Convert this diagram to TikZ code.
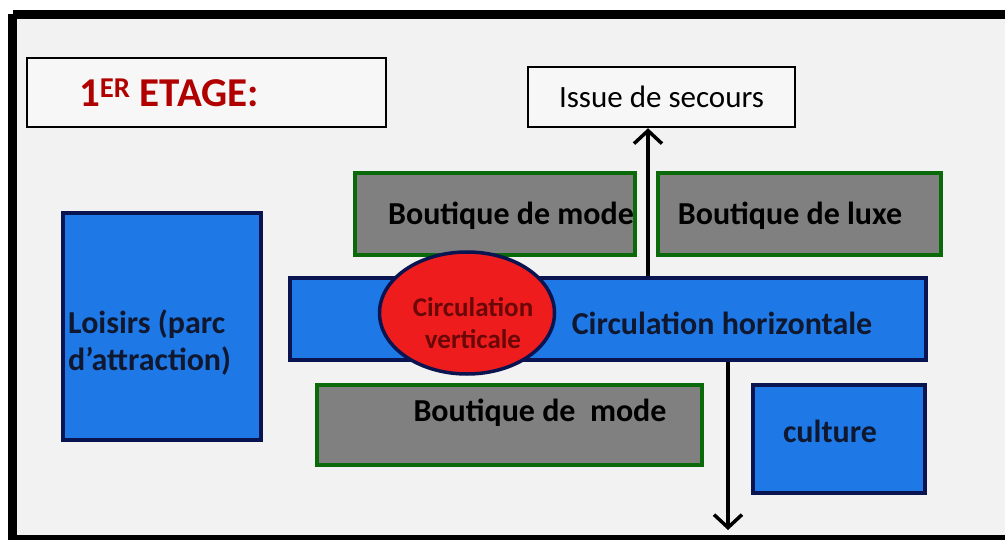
\documentclass[tikz,border=0pt]{standalone}
\usepackage{fontspec}
\setmainfont{Carlito}
\usetikzlibrary{arrows.meta,shapes.geometric}
\definecolor{bgc}{HTML}{F2F2F2}
\definecolor{bluef}{HTML}{1E78E6}
\definecolor{navy}{HTML}{0A1450}
\definecolor{grayf}{HTML}{808080}
\definecolor{greend}{HTML}{0A6A0A}
\definecolor{redf}{HTML}{EE1C1C}
\definecolor{titred}{HTML}{B00000}
\definecolor{txtdark}{HTML}{101830}
\definecolor{ellred}{HTML}{6A0808}
\tikzset{
  plainbox/.style={draw=black, fill=bgc!60!white, line width=2.5pt, inner sep=0pt},
  bluebox/.style={draw=navy, fill=bluef, line width=4pt, inner sep=0pt},
  graybox/.style={draw=greend, fill=grayf, line width=4pt, inner sep=0pt},
  redell/.style={ellipse, draw=navy, fill=redf, line width=3.5pt, inner sep=0pt},
  lbl/.style={font=\fontsize{32}{37}\selectfont\bfseries, text=txtdark, inner sep=0pt},
  glbl/.style={font=\fontsize{32}{37}\selectfont\bfseries, text=black, inner sep=0pt},
  arr/.style={line width=3.5pt, -{Straight Barb[length=13pt,width=28pt]}}
}
\begin{document}
\begin{tikzpicture}[x=1pt,y=-1pt]
\useasboundingbox (0,0) rectangle (1005,540);
\fill[white] (0,0) rectangle (1005,540);
\fill[bgc] (12,14) rectangle (1005,540);
\draw[line width=9pt] (12.5,14.5) -- (1015,14.5) (12.5,14.5) -- (12.5,539) -- (1015,539);
% title
\node[plainbox, minimum width=359pt, minimum height=69pt] (title) at (206.5,92.5) {};
\node[anchor=west, inner sep=0pt, text=titred, font=\fontsize{41}{44}\selectfont\bfseries] (titletext) at (79,93) {1\textsuperscript{ER} ETAGE:};
% issue de secours
\node[plainbox, minimum width=267pt, minimum height=60pt, font=\fontsize{31}{36}\selectfont, text=black] (issue) at (661.5,97) {Issue de secours\hspace{14pt}};
% boutiques top
\node[graybox, minimum width=280pt, minimum height=82pt] (bm1) at (495,214) {};
\node[glbl] (bm1t) at (511,216) {Boutique de mode};
\node[graybox, minimum width=283pt, minimum height=82pt] (bl) at (799.5,214) {};
\node[glbl] (blt) at (790,216) {Boutique de luxe};
% loisirs
\node[bluebox, minimum width=198pt, minimum height=227pt] (lois) at (162,326.5) {};
\node[lbl, anchor=west, align=left] (loist) at (68,343) {Loisirs (parc\\d’attraction)};
% circulation horizontale
\node[bluebox, minimum width=636pt, minimum height=82pt] (ch) at (608,319) {};
\node[lbl] (cht) at (722,323) {Circulation horizontale};
% ellipse
\node[redell, minimum width=175pt, minimum height=122pt] (cv) at (467,313) {};
\node[inner sep=0pt, align=center, text=ellred, font=\fontsize{27}{32}\selectfont\bfseries] (cvt) at (473,323) {Circulation\\verticale};
% bottom boutique
\node[graybox, minimum width=385pt, minimum height=80pt] (bm2) at (509.5,425) {};
\node[glbl] (bm2t) at (540,413) {Boutique de\ \ mode};
% culture
\node[bluebox, minimum width=172pt, minimum height=108pt] (cult) at (839,439) {};
\node[lbl] (cultt) at (830,431) {culture};
% arrows
\coordinate (ux) at (648,0);
\coordinate (dx) at (728,0);
\coordinate (downend) at (728,530);
\draw[arr] (ux |- ch.north) -- (ux |- issue.south);
\draw[arr] (dx |- ch.south) -- (downend);
\end{tikzpicture}
\end{document}
